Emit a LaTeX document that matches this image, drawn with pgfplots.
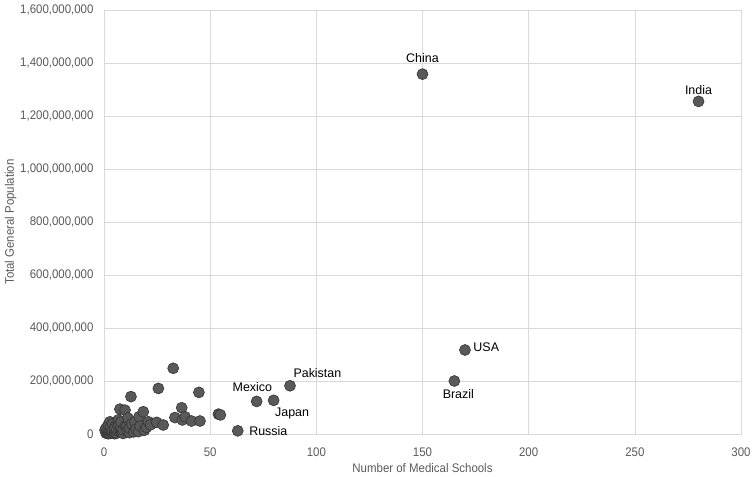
\documentclass[border=0pt]{standalone}
\usepackage{pgfplots}
\pgfplotsset{compat=1.18}
\usepackage{fontspec}
\setmainfont{Liberation Sans}[FakeStretch=0.92]
\newfontfamily\annot{Liberation Sans}
\definecolor{pt}{HTML}{595959}
\definecolor{gridc}{HTML}{D9D9D9}
\definecolor{txt}{HTML}{595959}
\tikzset{lab/.style={font=\annot\fontsize{12.5}{14}\selectfont, text=black}}
\begin{document}
\begin{tikzpicture}
\begin{axis}[
  scale only axis,
  width=637bp, height=424bp,
  xmin=0, xmax=300, ymin=0, ymax=1600000000,
  xtick={0,50,...,300},
  ytick={0,200000000,...,1600000000},
  scaled y ticks=false,
  /pgf/number format/assume math mode=true,
  tick label style={font=\fontsize{12.5}{14}\selectfont, text=txt},
  xticklabel style={yshift=-10bp},
  yticklabel style={xshift=-7bp, /pgf/number format/.cd, fixed, 1000 sep={,}},
  label style={font=\fontsize{12.5}{14}\selectfont, text=txt},
  xlabel={Number of Medical Schools},
  ylabel={Total General Population},
  ylabel style={yshift=-3bp},
  grid=major,
  major grid style={gridc, line width=0.6pt},
  axis line style={gridc, line width=0.6pt},
  tick style={draw=none},
  clip=false,
]
\addplot[only marks, mark=*, mark size=5.5bp, mark options={fill=pt, draw=black!80, line width=0.6pt}] table {
x y
0.5 15000000
1 3000000
1 8000000
1 22000000
2 1000000
2 5000000
2 12000000
2 21000000
2 35000000
2.8 46000000
3 2000000
3 9000000
3 17000000
3 28000000
4 4000000
4 12000000
4 38000000
5 1000000
5 7000000
5.2 28000000
5 20000000
6 3000000
6 15000000
6.7 53000000
7 10000000
7 33000000
7.5 94000000
8 6000000
8.3 9000000
8 24000000
8 45000000
9 2000000
9 16000000
9.9 90000000
10 30000000
10.6 28000000
11 12000000
11.3 60000000
12 5000000
12 22000000
12.7 141000000
13 38000000
14 8000000
14.6 46000000
15 18000000
16.2 9000000
16.5 65000000
17 30000000
18.5 84000000
19 14000000
20 25000000
20.9 46000000
22 35000000
24.8 44000000
25.6 172000000
27.9 34000000
32.6 248000000
33.4 62000000
36.6 99000000
36.9 53000000
38.2 65000000
41.2 49000000
44.7 157000000
45.2 49000000
53.9 75000000
54.8 72000000
63 12000000
71.9 123000000
79.9 127000000
87.6 182000000
150 1358000000
165 200000000
170 317000000
280 1255000000
};
\node[lab, anchor=south, yshift=8bp] at (axis cs:150,1358000000) {China};
\node[lab, anchor=south, yshift=3bp] at (axis cs:280,1255000000) {India};
\node[lab, anchor=west, xshift=5bp, yshift=3bp] at (axis cs:170,317000000) {USA};
\node[lab, anchor=north, xshift=4bp, yshift=-5bp] at (axis cs:165,200000000) {Brazil};
\node[lab, anchor=south west, xshift=0bp, yshift=5bp] at (axis cs:87.6,182000000) {Pakistan};
\node[lab, anchor=south east, xshift=19bp, yshift=6bp] at (axis cs:71.9,123000000) {Mexico};
\node[lab, anchor=north west, xshift=-2bp, yshift=-4bp] at (axis cs:79.9,127000000) {Japan};
\node[lab, anchor=west, xshift=8bp] at (axis cs:63,12000000) {Russia};
\end{axis}
\pgfresetboundingbox
\useasboundingbox ([shift={(-104bp,-43bp)}]current axis.south west) rectangle ([shift={(14bp,10bp)}]current axis.north east);
\end{tikzpicture}
\end{document}
